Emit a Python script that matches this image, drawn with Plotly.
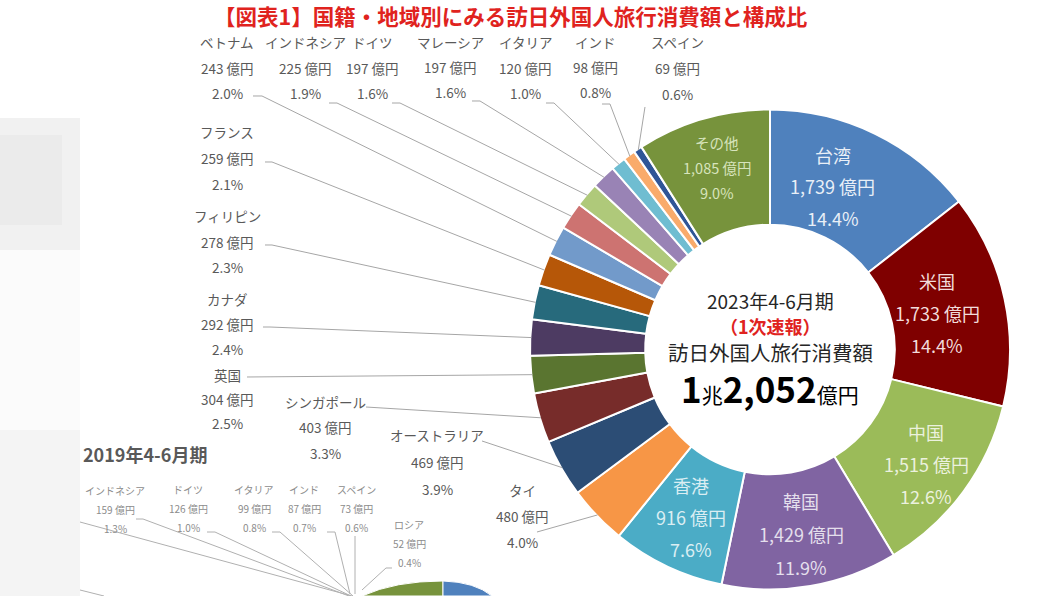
import math
import plotly.graph_objects as go

W, H = 1060, 596
FONT = "Noto Sans CJK JP"

# ---------------- data (2023 Apr-Jun, 1st preliminary) ----------------
countries = ["台湾", "米国", "中国", "韓国", "香港", "タイ", "オーストラリア", "シンガポール",
             "英国", "カナダ", "フィリピン", "フランス", "ベトナム", "インドネシア", "ドイツ",
             "マレーシア", "イタリア", "インド", "スペイン", "その他"]
values = [1739, 1733, 1515, 1429, 916, 480, 469, 403, 304, 292, 278, 259, 243, 225, 197,
          197, 120, 98, 69, 1085]
shares = [14.4, 14.4, 12.6, 11.9, 7.6, 4.0, 3.9, 3.3, 2.5, 2.4, 2.3, 2.1, 2.0, 1.9, 1.6,
          1.6, 1.0, 0.8, 0.6, 9.0]
total_trillion = "1"
total_rest = "2,052"

# 2019 Apr-Jun labels (partially visible chart)
countries_2019 = ["インドネシア", "ドイツ", "イタリア", "インド", "スペイン", "ロシア"]
values_2019 = [159, 126, 99, 87, 73, 52]
shares_2019 = [1.3, 1.0, 0.8, 0.7, 0.6, 0.4]

# ---------------- styles / layout positions ----------------
colors = ["#4F81BD", "#7F0000", "#9BBB59", "#8064A2", "#4BACC6", "#F79646", "#2C4D75",
          "#772C2A", "#5A7530", "#4D3B62", "#276A7C", "#B65708", "#729ACA", "#CD7371",
          "#AFC97A", "#9983B5", "#6FBDD1", "#F9AB6B", "#2F5597", "#77933C"]
CX, CY, R = 770, 349.5, 240
HOLE = 0.52

inside_style = {  # name: (radius, angle nudge, text color, font size, line gap)
    "台湾": (175, -5, "#E9EFF7", 18, 31.5),
    "米国": (171, 0, "#F2DCDB", 18, 32),
    "中国": (194, 0, "#EBF1DE", 18, 32),
    "韓国": (187, 0, "#E4DFEC", 18, 33),
    "香港": (185, 0, "#DAEEF3", 18, 32),
    "その他": (190, 0, "#D7E4BD", 14.5, 25),
}

# outside labels: centre x, first-line y, line gap
outside_xy = {
    "ベトナム": (227, 42, 25.5), "インドネシア": (305, 42, 25.5), "ドイツ": (372, 42, 25.5),
    "マレーシア": (450, 42, 25), "イタリア": (525, 42, 25.5), "インド": (595, 42, 25),
    "スペイン": (677, 42, 26),
    "フランス": (227, 132, 26), "フィリピン": (227, 216, 25.5), "カナダ": (227, 299, 25),
    "英国": (227, 375, 24), "シンガポール": (325, 402, 25.5),
    "オーストラリア": (437, 435, 27), "タイ": (522, 490, 26),
}
leader_start = {
    "ベトナム": [(253, 96), (262, 96)], "インドネシア": [(329, 103), (337, 103)],
    "ドイツ": [(392, 103), (400, 103)], "マレーシア": [(472, 101), (480, 101)],
    "イタリア": [(546, 103), (554, 103)], "インド": [(602, 104), (610, 104)],
    "スペイン": [(645, 107)],
    "フランス": [(265, 162), (272, 162)], "フィリピン": [(265, 245), (272, 245)],
    "カナダ": [(263, 327), (270, 327)], "英国": [(247, 377)],
    "シンガポール": [(366, 407)], "オーストラリア": [(482, 441)], "タイ": [(537, 532)],
}
xy_2019 = {"インドネシア": (115, 490), "ドイツ": (188, 489), "イタリア": (254, 489),
           "インド": (304, 489), "スペイン": (356, 489), "ロシア": (409, 524)}

LABEL_GREY = "#595959"
LINE_GREY = "#A6A6A6"


def P(x, y):
    return x / W, 1 - y / H


annotations = []
shapes = []


def text(x, y, s, size, color, xanchor="center"):
    px, py = P(x, y)
    annotations.append(dict(x=px, y=py, xref="paper", yref="paper", text=s,
                            showarrow=False, xanchor=xanchor, yanchor="middle",
                            font=dict(family=FONT, size=size, color=color)))


def polyline(pts, color=LINE_GREY, width=1):
    d = ""
    for i, (x, y) in enumerate(pts):
        px, py = P(x, y)
        d += ("M" if i == 0 else " L") + f" {px:.5f} {py:.5f}"
    shapes.append(dict(type="path", path=d, xref="paper", yref="paper",
                       line=dict(color=color, width=width), layer="above"))


# ---------------- soft grey area on the left ----------------
for (x1, y0, y1, c) in [(80, 118, 250, "#F1F1F1"), (62, 135, 225, "#EBEBEB"),
                        (80, 250, 430, "#FBFBFB"), (80, 430, 596, "#F4F4F4")]:
    x0p, y0p = P(0, y0)
    x1p, y1p = P(x1, y1)
    shapes.append(dict(type="rect", xref="paper", yref="paper", x0=x0p, x1=x1p,
                       y0=y1p, y1=y0p, fillcolor=c, line=dict(width=0), layer="below"))

# ---------------- pie ----------------
fig = go.Figure()
fig.add_trace(go.Pie(
    labels=countries, values=values, sort=False, direction="clockwise", rotation=0,
    hole=HOLE, textinfo="none", hoverinfo="label+value", showlegend=False,
    marker=dict(colors=colors, line=dict(color="white", width=2)),
    domain=dict(x=[(CX - R) / W, (CX + R) / W], y=[1 - (CY + R) / H, 1 - (CY - R) / H]),
))

total = sum(values)
cum = 0
for name, v, s in zip(countries, values, shares):
    mid = (cum + v / 2) / total * 360
    cum += v
    if name in inside_style:
        r, nudge, tc, fs, gap = inside_style[name]
        a = math.radians(mid + nudge)
        x, y = CX + r * math.sin(a), CY - r * math.cos(a)
        for k, line in enumerate([name, f"{v:,} 億円", f"{s:.1f}%"]):
            text(x, y + (k - 1) * gap, line, fs, tc)
    else:
        cx, y0, gap = outside_xy[name]
        for k, line in enumerate([name, f"{v} 億円", f"{s:.1f}%"]):
            text(cx, y0 + k * gap, line, 13.5, LABEL_GREY)
        a = math.radians(mid)
        end = (CX + (R - 1) * math.sin(a), CY - (R - 1) * math.cos(a))
        polyline(leader_start[name] + [end])

# ---------------- centre text ----------------
text(CX, 300, "2023年4-6月期", 19, "#262626")
text(CX, 326, "<b>（1次速報）</b>", 18, "#E0231E")
text(CX, 352, "訪日外国人旅行消費額", 20.5, "#262626")
text(CX, 387, f"<b>{total_trillion}</b><span style='font-size:21px'>兆</span>"
              f"<b>{total_rest}</b><span style='font-size:21px'>億円</span>", 35, "#000000")

# ---------------- title ----------------
text(511, 15, "<b>【図表1】国籍・地域別にみる訪日外国人旅行消費額と構成比</b>", 21.5, "#E0231E")

# ---------------- 2019 partial section ----------------
text(81, 454, "<b>2019年4-6月期</b>", 18, "#595959", xanchor="left")
for name, v, s in zip(countries_2019, values_2019, shares_2019):
    x, y = xy_2019[name]
    for k, line in enumerate([name, f"{v} 億円", f"{s:.1f}%"]):
        text(x, y + k * 19, line, 10, "#8C8C8C")
for pts in [
    [(80, 522), (352, 596)],
    [(136, 519), (143, 519), (349, 596)],
    [(207, 532), (215, 532), (351, 596)],
    [(272, 532), (280, 532), (353, 596)],
    [(327, 532), (335, 532), (350, 594)],
    [(355, 536), (355, 594)],
    [(392, 568), (386, 568), (362, 590)],
    [(80, 590), (104, 596)],
]:
    polyline(pts, color="#B0B0B0")


def cap(path_pts, color):
    d = ""
    for cmd, pts in path_pts:
        d += f" {cmd} " + " ".join(f"{P(x, y)[0]:.5f} {P(x, y)[1]:.5f}" for x, y in pts)
    shapes.append(dict(type="path", path=d.strip() + " Z", xref="paper", yref="paper",
                       fillcolor=color, line=dict(color="white", width=1), layer="above"))


# visible top cap of the 2019 doughnut (cut off by the page edge)
cap([("M", [(362, 596)]), ("Q", [(395, 581), (443, 581)]), ("L", [(443, 596)])], "#77933C")
cap([("M", [(443, 581)]), ("Q", [(475, 582), (492, 596)]), ("L", [(443, 596)])], "#4F81BD")

fig.update_layout(
    width=W, height=H, margin=dict(l=0, r=0, t=0, b=0),
    paper_bgcolor="white", plot_bgcolor="white",
    annotations=annotations, shapes=shapes, showlegend=False,
)
fig.write_html("out.html")
